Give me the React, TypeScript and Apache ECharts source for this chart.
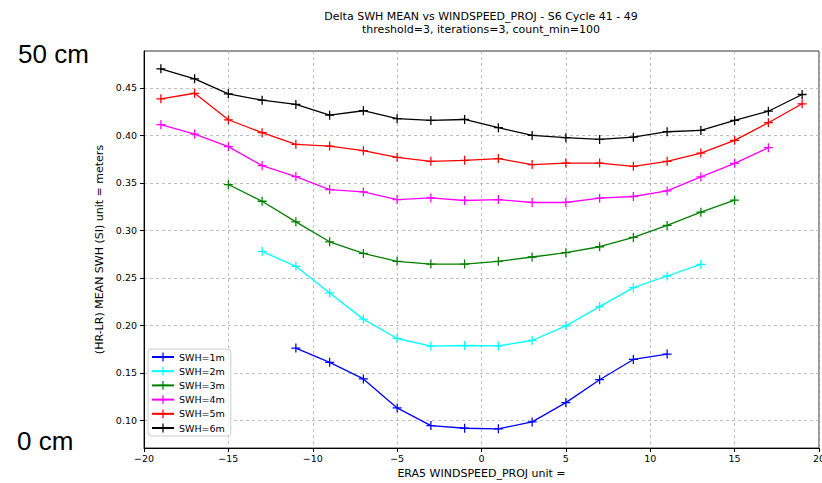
import React, { useEffect, useRef } from "react";
import * as echarts from "echarts";

// Wind-speed bin centres (m/s)
const windBins = [-19, -17, -15, -13, -11, -9, -7, -5, -3, -1, 1, 3, 5, 7, 9, 11, 13, 15, 17, 19];

// Mean SWH difference (HR-LR, metres) per bin; null where the bin has too few samples
const swh1m = [null, null, null, null, 0.176, 0.161, 0.1435, 0.113, 0.0944, 0.0916, 0.091, 0.0983, 0.1186, 0.1427, 0.164, 0.1697, null, null, null, null];
const swh2m = [null, null, null, 0.2778, 0.2621, 0.2341, 0.2065, 0.1861, 0.1781, 0.1787, 0.1784, 0.184, 0.1994, 0.2197, 0.2396, 0.2519, 0.2642, null, null, null];
const swh3m = [null, null, 0.3482, 0.3306, 0.3089, 0.2879, 0.2757, 0.2673, 0.2645, 0.2645, 0.2673, 0.2719, 0.2764, 0.2827, 0.2925, 0.3051, 0.3191, 0.3317, null, null];
const swh4m = [0.4112, 0.4013, 0.3881, 0.3681, 0.3566, 0.3429, 0.3404, 0.3324, 0.3341, 0.3314, 0.3324, 0.3293, 0.3293, 0.3338, 0.3356, 0.3415, 0.3562, 0.3705, 0.387, null];
const swh5m = [0.4385, 0.4443, 0.4164, 0.4028, 0.3905, 0.3887, 0.3839, 0.3768, 0.3726, 0.3737, 0.3755, 0.3692, 0.3708, 0.3708, 0.3674, 0.3726, 0.3813, 0.3947, 0.4133, 0.4332];
const swh6m = [0.47, 0.4595, 0.4437, 0.437, 0.4325, 0.4212, 0.4259, 0.4175, 0.4157, 0.4167, 0.408, 0.3999, 0.3975, 0.3957, 0.3981, 0.4038, 0.4052, 0.4157, 0.4254, 0.443];

const seriesNames = ["SWH=1m", "SWH=2m", "SWH=3m", "SWH=4m", "SWH=5m", "SWH=6m"];
const seriesValues = [swh1m, swh2m, swh3m, swh4m, swh5m, swh6m];
const seriesColors = ["#0000ff", "#00ffff", "#008000", "#ff00ff", "#ff0000", "#000000"];

const yTicks = [0.1, 0.15, 0.2, 0.25, 0.3, 0.35, 0.4, 0.45];
const xTicks = [-20, -15, -10, -5, 0, 5, 10, 15, 20];

const titleLines = [
  "Delta SWH MEAN vs WINDSPEED_PROJ - S6 Cycle 41 - 49",
  "threshold=3, iterations=3, count_min=100",
];
const sideLabels = ["50 cm", "0 cm"];

const PLUS = "path://M4.3,0H5.7V4.3H10V5.7H5.7V10H4.3V5.7H0V4.3H4.3Z";
const FONT = "DejaVu Sans";

export default function App() {
  const ref = useRef<HTMLDivElement>(null);

  useEffect(() => {
    if (!ref.current) return;
    const chart = echarts.init(ref.current, undefined, { renderer: "svg" });

    const series = seriesNames.map((name, i) => ({
      name,
      type: "line",
      data: windBins.map((x, j) => [x, seriesValues[i][j]]),
      color: seriesColors[i],
      symbol: PLUS,
      symbolSize: 9,
      showSymbol: true,
      lineStyle: { width: 1.3, color: seriesColors[i] },
      itemStyle: { color: seriesColors[i] },
      emphasis: { disabled: true },
    }));

    chart.setOption({
      animation: false,
      backgroundColor: "#ffffff",
      textStyle: { fontFamily: FONT },
      grid: {
        left: 144,
        right: 3,
        top: 51,
        bottom: 35,
        show: true,
        borderColor: "#333",
        borderWidth: 1,
        containLabel: false,
        outerBoundsMode: "none",
      },
      legend: {
        orient: "vertical",
        left: 148,
        top: 349,
        data: seriesNames,
        itemWidth: 22,
        itemHeight: 11,
        itemGap: 4.2,
        padding: [3, 6, 3, 3],
        backgroundColor: "rgba(255,255,255,0.8)",
        borderColor: "#cccccc",
        borderWidth: 1,
        borderRadius: 3,
        textStyle: { fontFamily: FONT, fontSize: 9.5, color: "#000" },
      },
      xAxis: {
        type: "value",
        min: -20,
        max: 20,
        interval: 5,
        name: "ERA5 WINDSPEED_PROJ unit =",
        nameLocation: "middle",
        nameGap: 20,
        nameTextStyle: { fontFamily: FONT, fontSize: 11, color: "#000" },
        axisLine: { show: true, onZero: false, lineStyle: { color: "#000", width: 1 } },
        axisTick: { show: true, length: 4, lineStyle: { color: "#000" } },
        axisLabel: {
          fontFamily: FONT,
          fontSize: 9.5,
          color: "#000",
          margin: 5,
          customValues: xTicks,
          formatter: (v: number) => (v < 0 ? "\u2212" + Math.abs(v) : String(v)),
        },
        splitLine: { show: true, lineStyle: { color: "#b0b0b0", type: [3, 3], width: 0.8 } },
      },
      yAxis: {
        type: "value",
        min: 0.0708,
        max: 0.4888,
        name: "(HR-LR) MEAN SWH (SI) unit = meters",
        nameLocation: "middle",
        nameGap: 36,
        nameRotate: 90,
        nameTextStyle: { fontFamily: FONT, fontSize: 11, color: "#000" },
        axisLine: { show: true, onZero: false, lineStyle: { color: "#000", width: 1 } },
        axisTick: { show: true, length: 4, lineStyle: { color: "#000" }, customValues: yTicks },
        axisLabel: {
          fontFamily: FONT,
          fontSize: 9.5,
          color: "#000",
          margin: 7,
          customValues: yTicks,
          formatter: (v: number) => v.toFixed(2),
        },
        splitLine: { show: true, lineStyle: { color: "#b0b0b0", type: [3, 3], width: 0.8 } },
      },
      graphic: [
        {
          type: "text",
          x: 481,
          y: 16,
          style: { text: titleLines[0], fontFamily: FONT, fontSize: 11, fill: "#000", textAlign: "center", textVerticalAlign: "middle" },
        },
        {
          type: "text",
          x: 481,
          y: 29,
          style: { text: titleLines[1], fontFamily: FONT, fontSize: 11, fill: "#000", textAlign: "center", textVerticalAlign: "middle" },
        },
        {
          type: "text",
          x: 18,
          y: 54,
          style: { text: sideLabels[0], fontFamily: "Liberation Sans", fontSize: 26, fill: "#000", textAlign: "left", textVerticalAlign: "middle" },
        },
        {
          type: "text",
          x: 17,
          y: 441,
          style: { text: sideLabels[1], fontFamily: "Liberation Sans", fontSize: 26, fill: "#000", textAlign: "left", textVerticalAlign: "middle" },
        },
      ],
      series,
    });

    return () => chart.dispose();
  }, []);

  return (
    <div
      ref={ref}
      style={{ position: "absolute", left: 0, top: 0, width: 822, height: 483 }}
    />
  );
}
